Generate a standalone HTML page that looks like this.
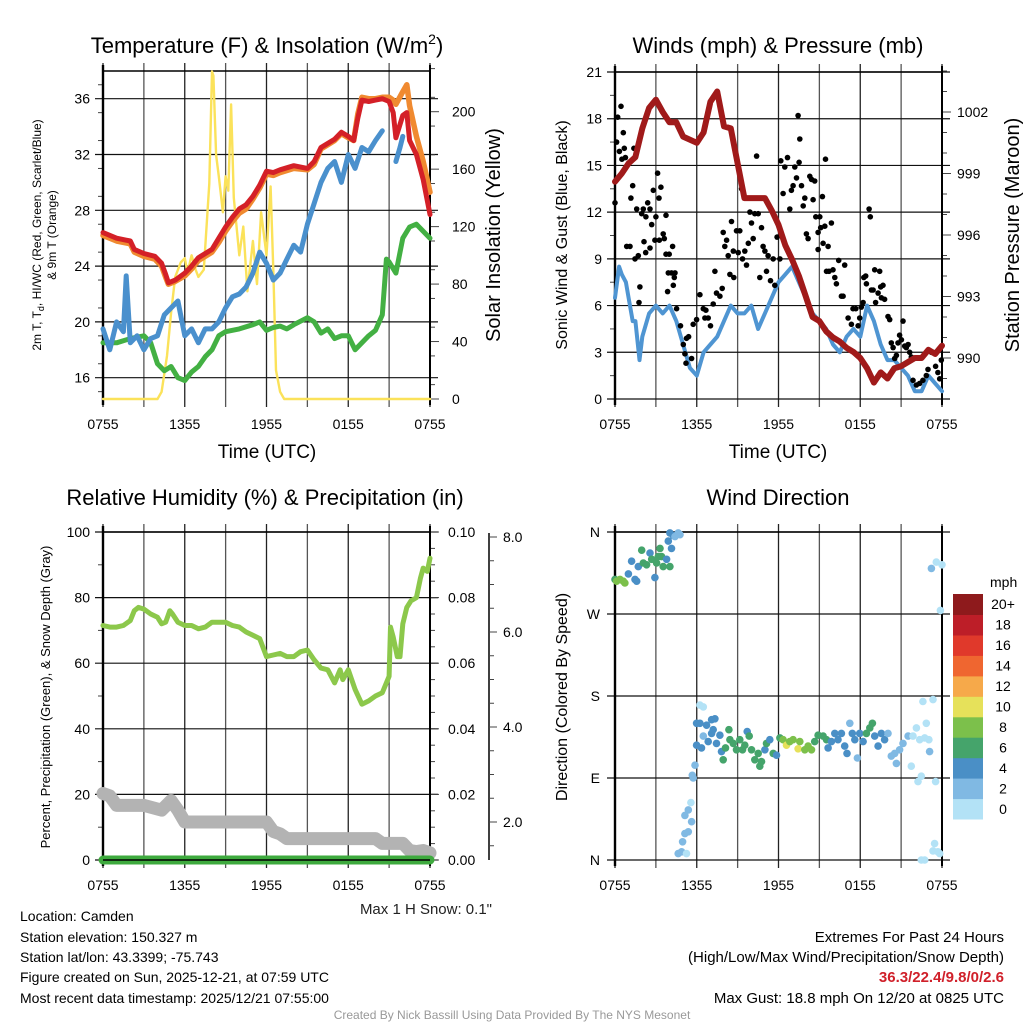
<!DOCTYPE html>
<html><head><meta charset="utf-8">
<style>
html,body{margin:0;padding:0;background:#fff;}
body{width:1024px;height:1024px;overflow:hidden;font-family:"Liberation Sans",sans-serif;}
svg text{font-family:"Liberation Sans",sans-serif;}
</style></head>
<body>
<svg id="chart" width="1024" height="1024" viewBox="0 0 1024 1024" xmlns="http://www.w3.org/2000/svg">
<g id="static" fill="#000">
<text x="267" y="53" font-size="22" text-anchor="middle">Temperature (F) &amp; Insolation (W/m<tspan font-size="14" dy="-9">2</tspan><tspan dy="9">)</tspan></text>
<text x="778" y="53" font-size="22" text-anchor="middle">Winds (mph) &amp; Pressure (mb)</text>
<text x="265" y="505" font-size="22" text-anchor="middle">Relative Humidity (%) &amp; Precipitation (in)</text>
<text x="778" y="505" font-size="22" text-anchor="middle">Wind Direction</text>
<text x="267" y="458" font-size="19" text-anchor="middle">Time (UTC)</text>
<text x="778" y="458" font-size="19" text-anchor="middle">Time (UTC)</text>
<text transform="translate(41,235) rotate(-90)" font-size="12" text-anchor="middle">2m T, T<tspan font-size="9" dy="3">d</tspan><tspan dy="-3">, HI/WC (Red, Green, Scarlet/Blue)</tspan></text>
<text transform="translate(56,235) rotate(-90)" font-size="12" text-anchor="middle">&amp; 9m T (Orange)</text>
<text transform="translate(500,235) rotate(-90)" font-size="20" text-anchor="middle">Solar Insolation (Yellow)</text>
<text transform="translate(567,235) rotate(-90)" font-size="16" text-anchor="middle">Sonic Wind &amp; Gust (Blue, Black)</text>
<text transform="translate(1019,235) rotate(-90)" font-size="20" text-anchor="middle">Station Pressure (Maroon)</text>
<text transform="translate(50,697) rotate(-90)" font-size="13" text-anchor="middle">Percent, Precipitation (Green), &amp; Snow Depth (Gray)</text>
<text transform="translate(567,697) rotate(-90)" font-size="16" text-anchor="middle">Direction (Colored By Speed)</text>
<text x="492" y="914" font-size="15" text-anchor="end" fill="#222">Max 1 H Snow: 0.1"</text>
<text x="20" y="921" font-size="14">Location: Camden</text>
<text x="20" y="942" font-size="14">Station elevation: 150.327 m</text>
<text x="20" y="962" font-size="14">Station lat/lon: 43.3399; -75.743</text>
<text x="20" y="982" font-size="14">Figure created on Sun, 2025-12-21, at 07:59 UTC</text>
<text x="20" y="1003" font-size="14">Most recent data timestamp: 2025/12/21 07:55:00</text>
<text x="1004" y="942" font-size="15" text-anchor="end">Extremes For Past 24 Hours</text>
<text x="1004" y="962" font-size="15" text-anchor="end">(High/Low/Max Wind/Precipitation/Snow Depth)</text>
<text x="1004" y="982" font-size="15" font-weight="bold" fill="#d0202a" text-anchor="end">36.3/22.4/9.8/0/2.6</text>
<text x="1004" y="1003" font-size="15" text-anchor="end">Max Gust: 18.8 mph On 12/20 at 0825 UTC</text>
<text x="512" y="1019" font-size="12" fill="#999" text-anchor="middle">Created By Nick Bassill Using Data Provided By The NYS Mesonet</text>
<text x="990" y="587" font-size="14">mph</text>
</g>
</svg>
<script>
// ---------- data ----------
const xTickLabels = ["0755","1355","1955","0155","0755"];
const xTickHours = [0,6,12,18,24];
// Panel 1
const tempTicks = [16,20,24,28,32,36];
const solarTicks = [0,40,80,120,160,200];
const tHours = [0,1,2,2.3,3,3.8,4.3,4.6,4.8,5.3,6,6.5,7,8,8.5,9,9.5,10,10.5,11,11.5,12,12.5,13,14,15,15.5,16,17,17.5,18,18.4,18.7,19,19.5,20,20.5,21,21.3,21.5,22,22.3,22.5,23,23.5,24];
const tempRed = [26.4,26.0,25.8,25.2,24.9,24.7,24.2,23.4,22.8,23.0,23.5,24.0,24.6,25.2,26.0,26.8,27.5,28.1,28.4,29.0,29.8,30.8,30.7,30.9,31.2,31.0,31.5,32.5,33.1,33.6,33.3,33.0,34.6,35.9,35.8,35.9,36.0,35.8,35.0,33.2,34.8,35.0,33.0,32.0,30.2,27.7];
const tempOrange = [26.2,25.8,25.6,25.0,24.7,24.5,24.0,23.2,22.7,22.9,23.3,23.8,24.4,25.0,25.7,26.5,27.2,27.8,28.1,28.8,29.6,30.6,30.5,30.7,31.0,30.9,31.3,32.4,33.0,33.5,33.2,33.0,34.9,36.1,36.0,36.0,36.1,36.1,35.9,35.6,36.5,37.0,35.5,33.3,31.5,29.3];
const dHours = [0,0.5,1,1.5,1.7,2,2.5,3,3.5,4,4.5,5,5.5,6,6.5,7,7.5,8,8.5,9,9.5,10,10.5,11,11.5,12,12.5,13,13.5,14,14.5,15,15.5,16,16.5,17,17.5,18,18.5,19,19.5,20,20.5];
const tempBlue = [19.5,18.0,20.0,19.3,23.3,18.5,19.0,18.0,18.8,19.0,20.5,21.0,21.5,19.0,19.5,18.5,19.5,19.5,20.0,21.0,21.8,22.0,22.5,23.5,25.0,24.2,23.0,23.5,24.5,25.5,25.0,27.0,28.5,30.0,31.0,31.5,30.0,32.0,31.0,32.5,32.2,33.0,33.7];
const blueHours2 = [21.5,21.8,22.0];
const tempBlue2 = [31.5,32.5,33.3];
const gHours = [0,1,2,3,3.5,4,4.5,5,5.5,6,6.5,7,7.5,8,8.5,9,10,11,11.5,12,12.5,13,13.5,14,15,15.5,16,16.5,17,17.5,18,18.5,19,19.5,20,20.5,20.8,21,21.5,22,22.5,23,23.5,24];
const tempGreen = [18.5,18.5,18.8,19.0,18.5,17.0,16.5,16.8,16.0,15.8,16.4,16.8,17.5,18.0,19.0,19.3,19.5,19.8,20.0,19.4,19.6,19.7,19.5,19.8,20.3,20.0,19.2,19.5,18.8,19.0,19.0,18.0,18.5,19.0,19.4,20.5,24.5,24.3,23.5,26.0,26.8,27.0,26.5,26.0];
const sHours = [0,4,4.3,4.7,5,5.3,5.7,6,6.2,6.5,6.8,7,7.4,7.8,8,8.1,8.3,8.5,8.8,9,9.2,9.4,9.6,10,10.3,10.6,11,11.3,11.6,12,12.3,12.5,12.7,13,13.3,24];
const solar = [0,0,5,30,60,85,95,98,88,100,90,85,90,150,228,225,170,155,130,155,145,205,140,100,120,75,110,80,130,100,148,90,20,5,0,0];
// Panel 2
const windTicks = [0,3,6,9,12,15,18,21];
const presTicks = [990,993,996,999,1002];
const wHours = [0,0.3,0.5,0.8,1,1.3,1.5,1.8,2,2.5,3,3.5,4,4.5,5,5.5,6,6.5,7,7.5,8,8.5,9,9.5,10,10.5,11,11.5,12,12.5,13,13.5,14,14.5,15,15.5,16,16.5,17,17.5,18,18.5,19,19.5,20,20.5,21,21.5,22,22.5,23,23.5,24];
const windSpeed = [6.5,8.5,8.0,7.5,6.5,5.0,5.0,2.5,4.0,5.5,6.0,5.5,6.0,5.0,3.5,2.0,1.5,3.0,3.5,4.0,5.0,6.0,5.5,5.5,6.0,4.5,5.5,6.5,7.5,8.0,8.5,7.5,6.5,5.5,5.0,4.5,3.5,3.0,4.0,4.5,4.0,6.0,5.0,3.5,2.5,2.5,2.0,1.5,0.5,0.5,1.5,1.0,0.5];
const pHours = [0,0.5,1,1.5,2,2.5,3,3.5,4,4.5,5,6,6.5,7,7.5,8,8.5,9,9.5,10,11,11.5,12,12.5,13,13.5,14,14.5,15,15.5,16,16.5,17,17.5,18,18.5,19,19.5,20,20.5,21,22,22.5,23,23.5,24];
const pressure = [998.6,999.0,999.5,999.8,1001.2,1002.2,1002.6,1002.0,1001.5,1001.5,1000.8,1000.5,1001.0,1002.5,1003.0,1001.3,1001.2,999.5,997.8,997.8,997.8,997.2,996.5,995.5,994.8,994.0,993.0,992.0,991.8,991.3,991.0,990.8,990.5,990.3,990.0,989.5,988.8,989.3,989.0,989.5,989.6,990.0,990.0,990.4,990.2,990.6];
const gustHours = [0,0.12,0.2,0.44,0.32,0.61,0.51,0.76,0.68,1.39,1.3,1.17,1.59,1.96,2.08,2.4,2.57,2.27,2.69,2.81,3.13,3.23,3.37,3.0,3.74,3.54,2.93,3.25,3.62,0.86,1.1,1.47,1.71,2.13,2.25,2.57,3.74,3.98,4.23,1.83,1.76,3.91,4.15,4.4,4.35,4.28,3.86,4.52,4.81,5.01,5.13,5.25,5.4,5.62,5.21,5.74,5.99,6.23,6.48,6.6,6.67,6.84,7.01,7.21,7.33,7.45,7.7,7.87,7.94,8.06,8.19,8.31,8.43,8.55,8.68,8.72,8.92,9.04,9.16,9.29,9.36,9.53,9.65,9.78,9.9,10.02,10.14,10.26,10.39,10.51,10.63,10.75,10.87,11.0,11.12,11.24,11.41,11.61,11.73,11.9,12.1,12.17,12.34,12.46,12.66,12.83,12.95,13.07,13.2,13.32,13.44,13.56,13.51,13.69,13.81,13.93,14.05,14.17,14.3,14.42,14.54,14.66,14.74,14.91,14.91,15.03,15.1,15.22,15.27,15.4,15.45,15.64,15.88,15.52,15.71,16.0,16.13,16.25,16.42,16.62,16.74,16.86,17.11,17.35,17.47,17.67,17.84,17.96,18.08,18.21,18.26,18.4,18.45,18.65,18.74,18.82,18.94,19.06,19.13,19.31,19.43,19.5,19.55,19.67,19.79,20.04,20.16,20.28,20.41,20.53,20.65,20.77,20.89,21.02,21.14,21.26,21.38,21.51,21.63,21.75,21.87,22.12,22.36,22.6,22.85,22.97,23.22,23.34,23.53,23.7,23.83,23.95];
const gustValues = [12.6,16.5,18.1,18.8,15.9,17.1,15.4,15.5,16.1,16.1,13.7,12.9,12.2,11.9,12.2,12.6,12.2,11.7,11.2,13.4,14.5,12.9,13.6,11.7,11.8,10.6,10.2,10.2,10.3,9.8,9.8,9.0,9.2,10.1,9.4,9.7,9.3,9.3,9.8,7.2,6.2,8.1,8.1,8.1,7.8,7.3,6.9,5.8,4.7,3.5,2.9,3.9,4.0,2.6,2.3,4.8,5.1,6.7,5.8,5.2,5.7,5.2,4.7,6.1,8.2,6.8,6.6,7.1,10.7,9.8,10.2,9.2,8.0,11.4,9.5,7.8,10.8,9.4,10.8,13.5,9.0,9.5,8.6,10.0,12.0,11.3,10.3,11.9,15.6,11.9,7.8,11.0,9.8,9.5,8.2,9.2,7.6,9.0,7.3,10.4,9.0,15.3,13.2,14.9,15.5,12.2,13.4,13.7,14.9,14.2,18.2,16.7,15.2,13.7,12.4,12.9,10.6,10.3,14.3,14.1,12.8,14.0,11.7,10.7,9.6,11.7,11.0,13.0,10.0,11.1,15.4,9.8,11.3,8.2,8.2,8.3,7.8,7.4,8.9,6.6,6.6,8.6,5.2,4.8,5.8,5.8,4.7,5.2,5.9,6.2,7.8,7.9,7.4,12.2,11.7,7.0,7.0,8.3,6.2,6.8,8.2,7.2,6.5,7.3,6.4,5.3,5.1,3.6,3.3,2.6,2.8,3.6,4.1,3.8,5.0,3.4,3.3,3.5,3.0,2.7,1.2,0.9,1.0,1.2,1.5,1.9,3.0,3.0,2.1,1.7,1.3,2.5];
// Panel 3
const rhTicks = [0,20,40,60,80,100];
const precipTicks = ["0.00","0.02","0.04","0.06","0.08","0.10"];
const snowTicks = [2,4,6,8];
const rhHours = [0,0.5,1,1.5,2,2.3,2.6,3,3.5,4,4.3,4.6,4.9,5.1,5.5,6,6.5,7,7.5,8,9,9.5,10,10.5,11,11.5,12,12.5,13,13.5,14,14.5,15,15.5,16,16.5,17,17.4,17.6,18,18.5,19,19.5,20,20.5,20.8,21,21.1,21.3,21.6,21.8,22,22.3,22.6,23,23.3,23.5,23.8,24];
const rh = [71.5,71,71,71.5,73,76,77,76.5,75,74,72,72.5,76,75,72.5,71.5,71.5,70.5,71,72.5,72.5,71.5,71,69.5,68.5,67.5,62,62.5,63,62,62,63.5,64,61,58.5,58,54,58,55,58,52,47.5,48.5,50,51,54,56,71,68,62,62,72,77,79,80,86,89,88,92];
const snowHours = [0,0.5,1,3,4.3,5,5.5,6,12,12.5,13,13.5,20,20.5,22,22.5,23,23.5,24];
const snowDepth = [2.6,2.55,2.35,2.35,2.25,2.45,2.25,2.0,2.0,1.8,1.75,1.65,1.65,1.55,1.55,1.4,1.38,1.4,1.35];
const precipHours = [0,24];
const precip = [0,0];
// Panel 4
const dirHours = [0,0.12,0.37,0.61,0.73,0.98,1.22,1.47,1.59,1.71,1.96,2.08,2.32,2.57,2.69,2.93,3.05,3.18,3.3,3.42,3.54,3.79,4.03,3.91,4.15,4.28,4.03,4.4,4.64,4.77,
4.64,4.89,5.25,4.96,5.13,5.38,5.62,5.13,5.38,5.57,5.74,5.67,5.87,
6.23,6.48,5.99,6.23,6.72,7.09,7.33,5.99,6.35,6.48,6.84,7.09,7.21,7.45,7.7,7.82,7.94,8.11,8.36,8.43,8.68,8.92,9.16,9.36,9.53,9.7,9.85,10.02,10.26,10.51,10.63,10.75,11.0,11.12,11.36,11.61,11.85,12.1,12.34,12.59,12.83,13.07,13.44,13.56,13.93,14.17,14.42,14.66,14.91,15.27,15.52,15.64,15.88,16.13,16.37,16.62,16.86,17.03,17.23,17.42,17.6,17.79,17.96,18.21,18.45,18.7,18.89,19.06,19.31,19.55,19.79,20.04,20.28,20.53,20.65,20.89,21.14,21.51,21.75,21.87,22.12,22.36,22.6,22.73,22.85,23.04,23.09,23.34,22.24,22.48,23.53,
23.22,23.58,24.0,23.88,22.48,22.73,23.46,23.34,23.7,23.83];
const dirDegrees = [308,306,308,306,304,314,328,308,306,322,340,326,324,337,330,310,326,333,342,333,322,330,322,350,342,356,359,355,359,357,
7,9,7,20,29,31,42,49,55,63,90,93,104,
170,168,150,150,148,154,155,126,123,136,130,139,143,128,137,119,110,123,143,132,128,121,132,121,126,141,136,121,110,117,103,108,121,128,132,117,115,134,132,126,130,132,122,130,121,125,121,130,137,136,132,123,130,139,132,139,125,117,150,139,132,112,139,130,139,145,150,136,125,139,132,139,114,117,106,121,128,136,103,136,145,132,174,134,150,132,119,176,86,92,86,
320,327,324,274,0,0,18,10,9,7];
const dirSpeeds = [7,9,9,9,9,5,5,5,5,5,7,7,7,5,7,5,7,7,7,7,7,5,7,5,5,5,5,3,3,3,
3,3,1,3,3,3,3,3,3,1,3,3,3,
1,1,5,5,5,5,5,5,5,3,5,5,5,5,5,5,7,7,7,7,7,7,7,7,7,5,7,7,7,7,7,7,5,7,5,7,5,7,9,11,9,9,11,9,9,9,9,7,7,7,7,5,5,5,5,5,5,5,3,5,5,3,5,5,7,7,7,5,5,5,5,3,3,3,3,3,3,3,1,1,1,1,1,1,1,1,3,1,1,1,1,
3,1,1,1,1,1,1,1,1,1];
const dirTickLabels = ["N","E","S","W","N"];
const dirTickDegrees = [0,90,180,270,360];
const speedBinLabels = ["0","2","4","6","8","10","12","14","16","18","20+"];
const speedBinColors = ["#b3e2f6","#80b9e3","#4a8fc6","#45a46b","#7cc04b","#e6e15a","#f6a94a","#ef6630","#e0392b","#bd1e28","#8e1a1c"];

// ---------- drawing ----------
const NS = "http://www.w3.org/2000/svg";
const svg = document.getElementById("chart");
function mk(tag, attrs, parent){
  const e = document.createElementNS(NS, tag);
  for (const k in attrs) e.setAttribute(k, attrs[k]);
  (parent||svg).appendChild(e);
  return e;
}
const P1 = {x0:103,x1:430,y0:71,y1:399};
const P2 = {x0:615,x1:942,y0:72,y1:399};
const P3 = {x0:103,x1:430,y0:532,y1:860};
const P4 = {x0:615,x1:942,y0:532,y1:860};
function xs(P,h){ return P.x0 + h/24*(P.x1-P.x0); }
function lin(v,d0,d1,r0,r1){ return r0 + (v-d0)/(d1-d0)*(r1-r0); }
const yTemp = v => lin(v,16,36,377.7,98.7);
const ySolar = v => lin(v,0,200,399,111.7);
const yWind = v => lin(v,0,21,399,72);
const yPres = v => lin(v,990,1002,358,112);
const yRH = v => lin(v,0,100,860,532);
const yPrecip = v => lin(v,0,0.1,860,532);
const ySnow = v => lin(v,2,8,822,537);
const yDir = v => lin(v,0,360,860,532);

function panelFrame(P, name){
  const g = mk("g",{});
  
  
  for (let i=0;i<=8;i++){
    const x = xs(P,i*3);
    const l = mk("line",{x1:x,x2:x,y1:P.y0-8,y2:P.y1+8,stroke:i%2? "#555":"#222","stroke-width":1.3},g);
    
    
  }
  for (let i=0;i<xTickHours.length;i++){
    const t = mk("text",{x:xs(P,xTickHours[i]),y:P.y1+30,"font-size":14,"text-anchor":"middle"},g);
    t.textContent = xTickLabels[i];
    
    
  }
  return g;
}
function hgrid(P,y,g,name){
  const l = mk("line",{x1:P.x0-8,x2:P.x1+8,y1:y,y2:y,stroke:"#111","stroke-width":1.2},g);
  
  
}
function label(x,y,txt,anchor,g,name,size){
  const t = mk("text",{x:x,y:y+5,"font-size":size||14,"text-anchor":anchor},g);
  t.textContent = txt;
  
  
  return t;
}
function tick(x1,x2,y,g,name){
  const l = mk("line",{x1:x1,x2:x2,y1:y,y2:y,stroke:"#444","stroke-width":1},g);
  
  
}
function boxEdges(P,g,name){
  const a = mk("line",{x1:P.x0,x2:P.x0,y1:P.y0-6,y2:P.y1+6,stroke:"#000","stroke-width":2.4},g);
  
  
  const b = mk("line",{x1:P.x1,x2:P.x1,y1:P.y0-6,y2:P.y1+6,stroke:"#000","stroke-width":2},g);
  
  
  const c = mk("line",{x1:P.x0,x2:P.x1,y1:P.y0,y2:P.y0,stroke:"#000","stroke-width":1.5},g);
  
  
}
function path(xsArr, ysArr, fx, fy, attrs, name){
  let d = "";
  for (let i=0;i<xsArr.length;i++) d += (i?"L":"M") + fx(xsArr[i]).toFixed(1) + "," + fy(ysArr[i]).toFixed(1);
  const p = mk("path", Object.assign({d:d,fill:"none","stroke-linejoin":"round","stroke-linecap":"round"},attrs));
  
  
  return p;
}

// ===== Panel 1 =====
let g1 = panelFrame(P1,"temp");
tempTicks.forEach(v=>{ hgrid(P1,yTemp(v),g1,"temp"); label(P1.x0-13,yTemp(v),String(v),"end",g1,"temp-y-tick-label"); });
for (let v=15; v<=37; v+=2) tick(P1.x0-5,P1.x0,yTemp(v),g1,"temp-minor-tick");
solarTicks.forEach(v=>{ tick(P1.x1,P1.x1+9,ySolar(v),g1,"solar-tick"); label(P1.x1+22,ySolar(v),String(v),"start",g1,"solar-y-tick-label"); });
for (let v=10; v<=230; v+=20) tick(P1.x1,P1.x1+5,ySolar(v),g1,"solar-minor-tick");
boxEdges(P1,g1,"temp");
path(sHours,solar,h=>xs(P1,h),ySolar,{stroke:"#fbe25a","stroke-width":2.4},"solar-insolation-line");
path(gHours,tempGreen,h=>xs(P1,h),yTemp,{stroke:"#43b043","stroke-width":5},"dewpoint-line");
path(dHours,tempBlue,h=>xs(P1,h),yTemp,{stroke:"#4a90cd","stroke-width":5},"wind-chill-line");
path(blueHours2,tempBlue2,h=>xs(P1,h),yTemp,{stroke:"#4a90cd","stroke-width":5},"wind-chill-line-late");
path(tHours,tempOrange,h=>xs(P1,h),yTemp,{stroke:"#f08a30","stroke-width":5.5},"temp-9m-line");
path(tHours,tempRed,h=>xs(P1,h),yTemp,{stroke:"#d42027","stroke-width":5},"temp-2m-line");

// ===== Panel 2 =====
let g2 = panelFrame(P2,"wind");
windTicks.forEach(v=>{ hgrid(P2,yWind(v),g2,"wind"); label(P2.x0-13,yWind(v),String(v),"end",g2,"wind-y-tick-label"); });
for (let v=1.5; v<21; v+=3) tick(P2.x0-5,P2.x0,yWind(v),g2,"wind-minor-tick");
presTicks.forEach(v=>{ tick(P2.x1,P2.x1+9,yPres(v),g2,"pressure-tick"); label(P2.x1+15,yPres(v),String(v),"start",g2,"pressure-y-tick-label"); });
for (let v=989; v<=1004; v+=1) tick(P2.x1,P2.x1+5,yPres(v),g2,"pressure-minor-tick");
boxEdges(P2,g2,"wind");
path(wHours,windSpeed,h=>xs(P2,h),yWind,{stroke:"#4f95d2","stroke-width":4},"sonic-wind-line");
for (let i=0;i<gustHours.length;i++){
  const c = mk("circle",{cx:xs(P2,gustHours[i]).toFixed(1),cy:yWind(gustValues[i]).toFixed(1),r:2.8,fill:"#000"});
  
  
}
path(pHours,pressure,h=>xs(P2,h),yPres,{stroke:"#a01a1a","stroke-width":6},"station-pressure-line");

// ===== Panel 3 =====
let g3 = panelFrame(P3,"rh");
rhTicks.forEach(v=>{ hgrid(P3,yRH(v),g3,"rh"); label(P3.x0-13,yRH(v),String(v),"end",g3,"rh-y-tick-label"); });
for (let v=10; v<100; v+=20) tick(P3.x0-5,P3.x0,yRH(v),g3,"rh-minor-tick");
precipTicks.forEach(s=>{ const v=parseFloat(s); tick(P3.x1,P3.x1+9,yPrecip(v),g3,"precip-tick"); label(P3.x1+18,yPrecip(v),s,"start",g3,"precip-y-tick-label"); });
for (let v=0.005; v<0.1; v+=0.005) tick(P3.x1,P3.x1+5,yPrecip(v),g3,"precip-minor-tick");
boxEdges(P3,g3,"rh");
{
  const ax = mk("line",{x1:489,x2:489,y1:533,y2:860,stroke:"#000","stroke-width":1.5},g3);
  
  
  snowTicks.forEach(v=>{ tick(489,497,ySnow(v),g3,"snow-tick"); label(503,ySnow(v),v.toFixed(1),"start",g3,"snow-y-tick-label"); });
  for (let v=1.5; v<8; v+=0.5) if (v%2) { const y=ySnow(v); if (y<=860) tick(489,494,y,g3,"snow-minor-tick"); }
}
path(snowHours,snowDepth,h=>xs(P3,h),ySnow,{stroke:"#b3b3b3","stroke-width":13},"snow-depth-line");
path(precipHours,precip,h=>xs(P3,h),yPrecip,{stroke:"#3eaa3e","stroke-width":9},"precip-line");
path(rhHours,rh,h=>xs(P3,h),yRH,{stroke:"#8cc84b","stroke-width":5},"rh-line");
{
  const b = mk("line",{x1:P3.x0,x2:P3.x1,y1:P3.y1,y2:P3.y1,stroke:"#000","stroke-width":1.5});
  
  
}

// ===== Panel 4 =====
let g4 = panelFrame(P4,"dir");
dirTickDegrees.forEach((v,i)=>{ hgrid(P4,yDir(v),g4,"dir"); label(P4.x0-15,yDir(v),dirTickLabels[i],"end",g4,"dir-y-tick-label"); });
boxEdges(P4,g4,"dir");
function speedColor(s){ let b = Math.floor(s/2); if (b>10) b=10; return speedBinColors[b]; }
for (let i=0;i<dirHours.length;i++){
  const c = mk("circle",{cx:xs(P4,dirHours[i]).toFixed(1),cy:yDir(dirDegrees[i]).toFixed(1),r:3.8,fill:speedColor(dirSpeeds[i])});
  
  
}
const cb = {x:953,y0:594,y1:819,w:30};
const binH = (cb.y1-cb.y0)/speedBinLabels.length;
for (let i=0;i<speedBinLabels.length;i++){
  const y = cb.y1 - (i+1)*binH;
  const r = mk("rect",{x:cb.x,y:y.toFixed(1),width:cb.w,height:(binH+0.5).toFixed(1),fill:speedBinColors[i]});
  
  
  const t = mk("text",{x:1003,y:(y+binH/2+5).toFixed(1),"font-size":14,"text-anchor":"middle"});
  t.textContent = speedBinLabels[i];
  
  
}
</script>
</body></html>
